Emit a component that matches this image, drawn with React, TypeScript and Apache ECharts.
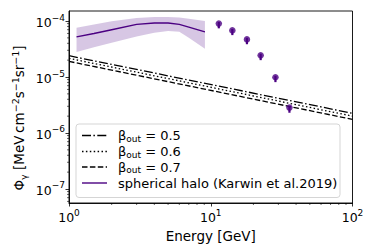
import React, { useEffect, useRef } from 'react';
import * as echarts from 'echarts';

// spherical halo (Karwin et al. 2019): line and band
const haloE = [1.13, 1.5, 2, 3, 4, 5, 6, 7, 9.1];
const haloMid = [5.2e-5, 6.0e-5, 7.0e-5, 8.7e-5, 9.2e-5, 9.2e-5, 8.7e-5, 7.8e-5, 6.4e-5];
const haloUp = [7.6e-5, 8.7e-5, 9.9e-5, 1.13e-4, 1.18e-4, 1.18e-4, 1.15e-4, 1.1e-4, 1.0e-4];
const haloLo = [2.8e-5, 3.4e-5, 4.1e-5, 5.3e-5, 6.2e-5, 6.6e-5, 6.4e-5, 5.05e-5, 3.2e-5];

// data points with error bars
const ptE = [11.4, 14.2, 18.0, 22.5, 28.6, 35.9];
const ptFlux = [9.0e-5, 6.8e-5, 4.7e-5, 2.44e-5, 9.9e-6, 2.84e-6];
const ptLow = [7.4e-5, 5.6e-5, 3.85e-5, 2.0e-5, 8.1e-6, 2.3e-6];
const ptHigh = [9.6e-5, 7.2e-5, 5.0e-5, 2.6e-5, 1.05e-5, 3.0e-6];

// beta_out model lines
const lineE = [1, 100];
const beta05 = [2.4e-5, 2.25e-6];
const beta06 = [2.15e-5, 2.0e-6];
const beta07 = [1.9e-5, 1.75e-6];

const xMin = 1;
const xMax = 100;
const yMin = 5.62e-8;
const yMax = 1.51e-4;

const xMinorTicks = [2, 3, 4, 5, 6, 7, 8, 9, 20, 30, 40, 50, 60, 70, 80, 90];
const yMinorTicks = [
  6e-8, 7e-8, 8e-8, 9e-8,
  2e-7, 3e-7, 4e-7, 5e-7, 6e-7, 7e-7, 8e-7, 9e-7,
  2e-6, 3e-6, 4e-6, 5e-6, 6e-6, 7e-6, 8e-6, 9e-6,
  2e-5, 3e-5, 4e-5, 5e-5, 6e-5, 7e-5, 8e-5, 9e-5,
];

const FONT = 'DejaVu Sans';
const PURPLE = '#4b0082';
const DASHDOT = [9, 2.4, 1.5, 2.4];
const DOTTED = [1.5, 2.4];
const DASHED = [5.5, 2.4];

const powLabel = (v: number) => {
  const e = Math.log10(v);
  const r = Math.round(e);
  if (Math.abs(e - r) > 0.01) return '';
  return `{b|10}{s|${r < 0 ? '\u2212' + Math.abs(r) : r}}`;
};

const labelRich = {
  b: { fontFamily: FONT, fontSize: 12.5, color: '#000', lineHeight: 16, verticalAlign: 'bottom' },
  s: { fontFamily: FONT, fontSize: 9, color: '#000', lineHeight: 16, verticalAlign: 'top' },
};

export default function App() {
  const ref = useRef<HTMLDivElement>(null);
  useEffect(() => {
    document.body.style.margin = '0';
    if (!ref.current) return;
    const chart = echarts.init(ref.current, null, { renderer: 'svg' });

    const legendX = 76;
    const legendY = 124;
    const rowY = [135.5, 151.5, 167, 183];
    const hx1 = 82;
    const hx2 = 107;
    const tx = 118;
    const legRich = {
      b: { fontFamily: FONT, fontSize: 13, color: '#000', lineHeight: 15, verticalAlign: 'middle' },
      sub: { fontFamily: FONT, fontSize: 9, color: '#000', lineHeight: 15, verticalAlign: 'bottom', padding: [6, 0, 0, 0] },
    };

    const option: any = {
      animation: false,
      grid: {
        left: 69, right: 21.5, top: 11, bottom: 46,
        show: true, borderColor: '#000', borderWidth: 0.9, backgroundColor: 'transparent',
      },
      xAxis: {
        type: 'log', logBase: 10, min: xMin, max: xMax,
        name: 'Energy [GeV]', nameLocation: 'middle', nameGap: 20,
        nameTextStyle: { fontFamily: FONT, fontSize: 13.5, color: '#000' },
        axisLine: { show: true, lineStyle: { color: '#000', width: 0.9 } },
        axisTick: { show: true, inside: false, length: 3.5, lineStyle: { color: '#000', width: 0.8 } },
        minorTick: { show: false },
        splitLine: { show: false },
        axisLabel: { formatter: powLabel, rich: labelRich, margin: 5, hideOverlap: false },
      },
      yAxis: {
        type: 'log', logBase: 10, min: yMin, max: yMax,
        axisLine: { show: true, lineStyle: { color: '#000', width: 0.9 } },
        axisTick: { show: true, inside: false, length: 3.5, lineStyle: { color: '#000', width: 0.8 } },
        minorTick: { show: false },
        splitLine: { show: false },
        axisLabel: { formatter: powLabel, rich: labelRich, margin: 4, showMinLabel: false, showMaxLabel: false },
      },
      series: [
        {
          type: 'custom',
          name: 'band',
          coordinateSystem: 'cartesian2d',
          clip: false,
          silent: true,
          data: [[haloE[0], haloMid[0]]],
          renderItem: (_p: any, api: any) => {
            const pts: number[][] = [];
            for (let i = 0; i < haloE.length; i++) pts.push(api.coord([haloE[i], haloUp[i]]));
            for (let i = haloE.length - 1; i >= 0; i--) pts.push(api.coord([haloE[i], haloLo[i]]));
            return { type: 'polygon', shape: { points: pts }, style: { fill: 'rgba(75,0,130,0.22)', stroke: 'none' } };
          },
          z: 1,
        },
        {
          type: 'line', name: 'halo', showSymbol: false, symbol: 'none', smooth: false,
          data: haloE.map((e, i) => [e, haloMid[i]]),
          lineStyle: { color: PURPLE, width: 1.4 }, z: 3,
        },
        {
          type: 'line', name: 'b05', symbol: 'none',
          data: lineE.map((e, i) => [e, beta05[i]]),
          lineStyle: { color: '#000', width: 1.3, type: DASHDOT }, z: 2,
        },
        {
          type: 'line', name: 'b06', symbol: 'none',
          data: lineE.map((e, i) => [e, beta06[i]]),
          lineStyle: { color: '#000', width: 1.3, type: DOTTED }, z: 2,
        },
        {
          type: 'line', name: 'b07', symbol: 'none',
          data: lineE.map((e, i) => [e, beta07[i]]),
          lineStyle: { color: '#000', width: 1.3, type: DASHED }, z: 2,
        },
        {
          type: 'custom', name: 'errbars', coordinateSystem: 'cartesian2d', silent: true,
          data: ptE.map((e, i) => [e, ptLow[i], ptHigh[i]]),
          renderItem: (_p: any, api: any) => {
            const a = api.coord([api.value(0), api.value(1)]);
            const b = api.coord([api.value(0), api.value(2)]);
            return { type: 'line', shape: { x1: a[0], y1: a[1], x2: b[0], y2: b[1] }, style: { stroke: PURPLE, lineWidth: 2.2 } };
          },
          z: 4,
        },
        {
          type: 'scatter', name: 'points', symbol: 'circle', symbolSize: 6.5,
          data: ptE.map((e, i) => [e, ptFlux[i]]),
          itemStyle: { color: PURPLE }, z: 5,
        },
        {
          type: 'custom', name: 'xminor', coordinateSystem: 'cartesian2d', clip: false, silent: true,
          data: xMinorTicks.map((v) => [v, yMin]),
          renderItem: (_p: any, api: any) => {
            const p = api.coord([api.value(0), yMin]);
            return { type: 'line', shape: { x1: p[0], y1: p[1], x2: p[0], y2: p[1] + 2 }, style: { stroke: '#000', lineWidth: 0.6 } };
          },
        },
        {
          type: 'custom', name: 'yminor', coordinateSystem: 'cartesian2d', clip: false, silent: true,
          data: yMinorTicks.map((v) => [xMin, v]),
          renderItem: (_p: any, api: any) => {
            const p = api.coord([xMin, api.value(1)]);
            return { type: 'line', shape: { x1: p[0] - 2, y1: p[1], x2: p[0], y2: p[1] }, style: { stroke: '#000', lineWidth: 0.6 } };
          },
        },
      ],
      graphic: [
        {
          type: 'text', z: 100, x: 19, y: 118, rotation: Math.PI / 2,
          style: {
            text: '{n|\u03a6}{sub|\u03b3}{n| [MeV\u2009cm}{sup|\u22122}{n|s}{sup|\u22121}{n|sr}{sup|\u22121}{n|]}',
            align: 'center', verticalAlign: 'middle',
            rich: {
              n: { fontFamily: FONT, fontSize: 13.5, fill: '#000', lineHeight: 18, verticalAlign: 'middle' },
              sup: { fontFamily: FONT, fontSize: 9.5, fill: '#000', lineHeight: 18, verticalAlign: 'top' },
              sub: { fontFamily: FONT, fontSize: 9.5, fill: '#000', lineHeight: 18, verticalAlign: 'bottom' },
            },
          },
        },
        {
          type: 'rect', z: 100,
          shape: { x: legendX, y: legendY, width: 264, height: 73.5, r: 3 },
          style: { fill: 'rgba(255,255,255,0.8)', stroke: '#d0d0d0', lineWidth: 0.9 },
        },
        { type: 'line', z: 101, shape: { x1: hx1, y1: rowY[0], x2: hx2, y2: rowY[0] }, style: { stroke: '#000', lineWidth: 1.3, lineDash: DASHDOT } },
        { type: 'line', z: 101, shape: { x1: hx1, y1: rowY[1], x2: hx2, y2: rowY[1] }, style: { stroke: '#000', lineWidth: 1.3, lineDash: DOTTED } },
        { type: 'line', z: 101, shape: { x1: hx1, y1: rowY[2], x2: hx2, y2: rowY[2] }, style: { stroke: '#000', lineWidth: 1.3, lineDash: DASHED } },
        { type: 'line', z: 101, shape: { x1: hx1, y1: rowY[3], x2: hx2, y2: rowY[3] }, style: { stroke: PURPLE, lineWidth: 1.4 } },
        { type: 'text', z: 101, x: tx, y: rowY[0], style: { text: '{b|\u03b2}{sub|out}{b| = 0.5}', rich: legRich, verticalAlign: 'middle', align: 'left' } },
        { type: 'text', z: 101, x: tx, y: rowY[1], style: { text: '{b|\u03b2}{sub|out}{b| = 0.6}', rich: legRich, verticalAlign: 'middle', align: 'left' } },
        { type: 'text', z: 101, x: tx, y: rowY[2], style: { text: '{b|\u03b2}{sub|out}{b| = 0.7}', rich: legRich, verticalAlign: 'middle', align: 'left' } },
        { type: 'text', z: 101, x: tx, y: rowY[3], style: { text: 'spherical halo (Karwin et al.2019)', fontFamily: FONT, fontSize: 13, fill: '#000', verticalAlign: 'middle', align: 'left' } },
      ],
    };
    chart.setOption(option);
    return () => chart.dispose();
  }, []);
  return <div ref={ref} style={{ width: 374, height: 249 }} />;
}
